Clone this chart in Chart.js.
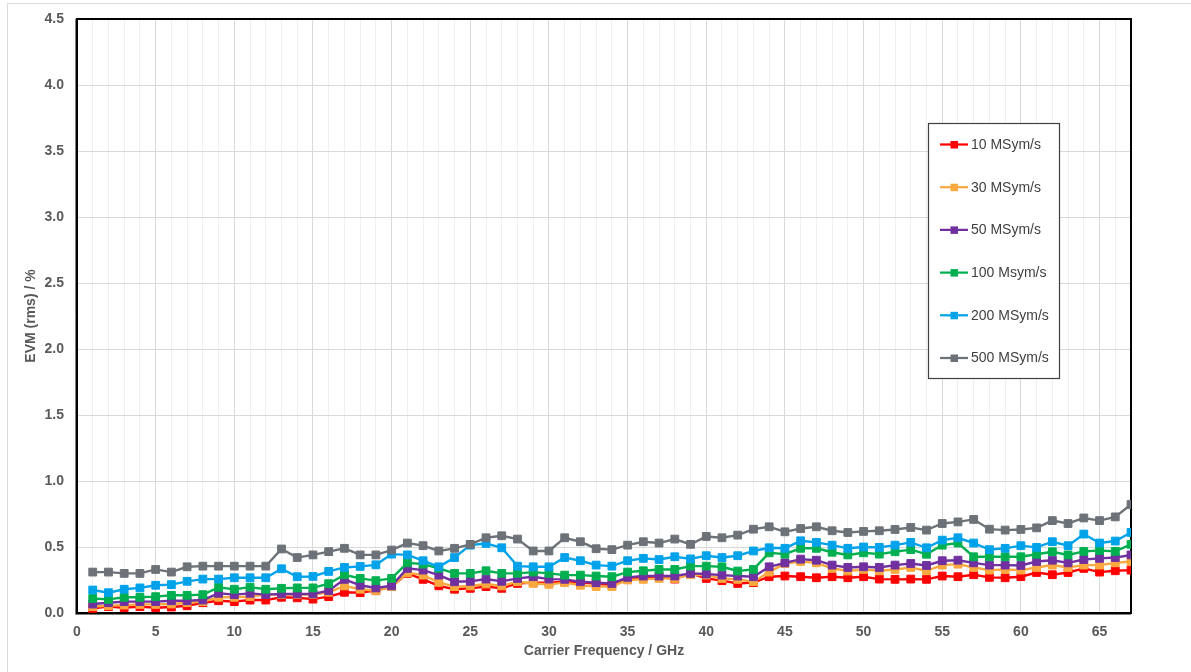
<!DOCTYPE html>
<html>
<head>
<meta charset="utf-8">
<script src="https://cdn.jsdelivr.net/npm/chart.js@4.4.1/dist/chart.umd.min.js"></script>
<style>
  html, body { margin: 0; padding: 0; background: #ffffff; overflow: hidden; }
  #frame { position: absolute; left: 7px; top: 3px; width: 3000px; height: 3000px; border: 1px solid #dcdcdc; box-sizing: border-box; }
  #wrap { position: absolute; left: 0; top: 0; width: 1191px; height: 672px; }
</style>
</head>
<body>
<div id="frame"></div>
<div id="wrap"><canvas id="c" width="1191" height="672"></canvas></div>
<script>
const frequencies = Array.from({length: 67}, (_, i) => i + 1);
const seriesNames = ['10 MSym/s', '30 MSym/s', '50 MSym/s', '100 Msym/s', '200 MSym/s', '500 MSym/s'];
const seriesColors = ['#ff0000', '#f9a93f', '#7030a0', '#00b050', '#00a2ea', '#6c7278'];

const evm10 = [0.035,0.048,0.040,0.048,0.040,0.045,0.055,0.078,0.093,0.086,0.098,0.098,0.119,0.115,0.105,0.124,0.157,0.154,0.169,0.200,
  0.300,0.255,0.206,0.180,0.187,0.200,0.187,0.224,0.230,0.230,0.237,0.230,0.224,0.210,0.257,0.275,0.275,0.257,0.300,0.262,
  0.245,0.224,0.230,0.275,0.280,0.275,0.267,0.275,0.267,0.275,0.257,0.255,0.257,0.255,0.280,0.275,0.290,0.270,0.267,0.275,
  0.307,0.290,0.307,0.338,0.310,0.320,0.325];
const evm30 = [0.048,0.055,0.060,0.065,0.065,0.068,0.078,0.086,0.119,0.119,0.124,0.139,0.139,0.140,0.140,0.157,0.205,0.180,0.169,0.200,
  0.305,0.287,0.232,0.200,0.205,0.220,0.205,0.237,0.224,0.217,0.230,0.210,0.200,0.200,0.250,0.255,0.262,0.262,0.290,0.287,
  0.262,0.255,0.237,0.310,0.375,0.390,0.380,0.338,0.318,0.330,0.320,0.330,0.345,0.320,0.363,0.370,0.345,0.325,0.330,0.325,
  0.345,0.363,0.345,0.363,0.363,0.380,0.390];
const evm50 = [0.068,0.078,0.086,0.086,0.086,0.093,0.093,0.098,0.149,0.139,0.149,0.139,0.144,0.144,0.144,0.169,0.255,0.210,0.190,0.206,
  0.338,0.325,0.287,0.237,0.240,0.257,0.240,0.262,0.275,0.257,0.255,0.237,0.230,0.224,0.270,0.280,0.280,0.280,0.300,0.295,
  0.287,0.280,0.275,0.350,0.380,0.408,0.400,0.363,0.345,0.350,0.345,0.363,0.375,0.360,0.396,0.400,0.380,0.363,0.363,0.360,
  0.390,0.400,0.380,0.405,0.414,0.420,0.440];
const evm100 = [0.110,0.103,0.119,0.119,0.124,0.134,0.134,0.139,0.194,0.180,0.196,0.180,0.187,0.190,0.190,0.222,0.290,0.262,0.245,0.262,
  0.380,0.370,0.338,0.300,0.300,0.320,0.300,0.300,0.310,0.300,0.287,0.287,0.280,0.275,0.310,0.320,0.330,0.330,0.355,0.355,
  0.350,0.318,0.330,0.456,0.446,0.490,0.490,0.460,0.440,0.456,0.446,0.464,0.480,0.445,0.514,0.530,0.426,0.426,0.426,0.426,
  0.445,0.464,0.440,0.467,0.474,0.467,0.520];
const evm200 = [0.174,0.154,0.180,0.190,0.210,0.215,0.240,0.257,0.257,0.267,0.267,0.267,0.335,0.275,0.277,0.315,0.345,0.353,0.365,0.446,
  0.440,0.396,0.350,0.420,0.514,0.527,0.494,0.355,0.350,0.350,0.420,0.396,0.363,0.355,0.396,0.414,0.405,0.426,0.410,0.434,
  0.420,0.434,0.470,0.494,0.490,0.547,0.535,0.514,0.490,0.500,0.497,0.514,0.535,0.494,0.552,0.570,0.530,0.480,0.490,0.510,
  0.497,0.540,0.510,0.598,0.530,0.545,0.610];
const evm500 = [0.310,0.310,0.300,0.300,0.330,0.310,0.350,0.355,0.355,0.355,0.355,0.355,0.485,0.420,0.440,0.465,0.490,0.440,0.440,0.477,
  0.530,0.510,0.470,0.490,0.520,0.570,0.585,0.560,0.470,0.470,0.570,0.540,0.487,0.480,0.514,0.540,0.530,0.560,0.520,0.580,
  0.570,0.590,0.635,0.653,0.615,0.640,0.653,0.623,0.610,0.618,0.623,0.633,0.648,0.628,0.678,0.690,0.709,0.635,0.628,0.633,
  0.645,0.700,0.678,0.720,0.700,0.728,0.822];

const yTicks = [0, 0.5, 1.0, 1.5, 2.0, 2.5, 3.0, 3.5, 4.0, 4.5];
const xLabelStep = 5;
const allSeries = [evm10, evm30, evm50, evm100, evm200, evm500];

const FONT = "'Liberation Sans', Arial, sans-serif";

const datasets = allSeries.map((vals, i) => ({
  label: seriesNames[i],
  data: vals.map((v, j) => ({x: frequencies[j], y: v})),
  borderColor: seriesColors[i],
  backgroundColor: seriesColors[i],
  pointBackgroundColor: seriesColors[i],
  pointBorderColor: seriesColors[i],
  pointStyle: 'rect',
  pointRadius: 5.5,
  pointBorderWidth: 1,
  borderWidth: 2.4,
  tension: 0,
  order: allSeries.length - 1 - i
}));

const framePlugin = {
  id: 'frame',
  beforeDatasetsDraw(chart) {
    const {ctx, chartArea: a} = chart;
    ctx.save();
    ctx.strokeStyle = '#000000';
    ctx.lineWidth = 2;
    ctx.strokeRect(a.left, a.top, a.right - a.left, a.bottom - a.top);
    ctx.strokeStyle = '#7f7f7f';
    ctx.lineWidth = 1;
    ctx.beginPath();
    ctx.moveTo(a.left - 1.5, a.top);
    ctx.lineTo(a.left - 1.5, a.bottom + 1.5);
    ctx.lineTo(a.right, a.bottom + 1.5);
    ctx.stroke();
    ctx.restore();
  }
};

const legendPlugin = {
  id: 'boxLegend',
  afterDraw(chart) {
    const {ctx} = chart;
    const bx = 928.5, by = 123.5, bw = 131, bh = 255;
    ctx.save();
    ctx.fillStyle = '#ffffff';
    ctx.fillRect(bx, by, bw, bh);
    ctx.strokeStyle = '#404040';
    ctx.lineWidth = 1.2;
    ctx.strokeRect(bx, by, bw, bh);
    ctx.font = '14px ' + FONT;
    ctx.textBaseline = 'middle';
    ctx.textAlign = 'left';
    chart.data.datasets.forEach((ds, i) => {
      const y = 144.5 + i * 42.7;
      ctx.strokeStyle = ds.borderColor;
      ctx.lineWidth = 2.25;
      ctx.beginPath();
      ctx.moveTo(940, y);
      ctx.lineTo(968, y);
      ctx.stroke();
      ctx.fillStyle = ds.borderColor;
      ctx.fillRect(950.5, y - 3.5, 7.5, 7.5);
      ctx.fillStyle = '#404040';
      ctx.fillText(ds.label, 971, y + 0.5);
    });
    ctx.restore();
  }
};

new Chart(document.getElementById('c'), {
  type: 'line',
  data: { datasets },
  options: {
    responsive: false,
    animation: false,
    events: [],
    layout: { padding: { top: 19, right: 60, left: 0, bottom: 0 } },
    plugins: { legend: { display: false }, tooltip: { enabled: false } },
    scales: {
      x: {
        type: 'linear',
        min: 0, max: 67,
        afterFit(scale) { scale.height = 59; },
        afterBuildTicks(scale) {
          scale.ticks = frequencies.map(f => ({value: f})).concat([{value: 0}]).sort((a, b) => a.value - b.value);
        },
        ticks: {
          autoSkip: false, maxRotation: 0, padding: 3,
          color: '#595959',
          font: { family: FONT, size: 14, weight: 'bold' },
          callback: (v) => (v % xLabelStep === 0 ? String(v) : '')
        },
        grid: {
          drawTicks: true,
          tickLength: 8,
          tickColor: 'rgba(0,0,0,0)',
          color: (c) => (c.tick && c.tick.value % xLabelStep === 0 ? '#d9d9d9' : '#efefef'),
          lineWidth: 1
        },
        border: { display: false },
        title: {
          display: true, text: 'Carrier Frequency / GHz',
          color: '#595959',
          font: { family: FONT, size: 14, weight: 'bold' },
          padding: { top: 0, bottom: 12 }
        }
      },
      y: {
        type: 'linear',
        min: 0, max: 4.5,
        afterFit(scale) { scale.width = 77; },
        afterBuildTicks(scale) { scale.ticks = yTicks.map(v => ({value: v})); },
        ticks: {
          padding: 3,
          color: '#595959',
          font: { family: FONT, size: 14, weight: 'bold' },
          callback: (v) => Number(v).toFixed(1)
        },
        grid: {
          drawTicks: true,
          tickLength: 10,
          tickColor: 'rgba(0,0,0,0)',
          color: '#d9d9d9',
          lineWidth: 1
        },
        border: { display: false },
        title: {
          display: true, text: 'EVM (rms) / %',
          color: '#595959',
          font: { family: FONT, size: 14, weight: 'bold' },
          padding: { top: 23, bottom: 0 }
        }
      }
    }
  },
  plugins: [framePlugin, legendPlugin]
});
</script>
</body>
</html>
